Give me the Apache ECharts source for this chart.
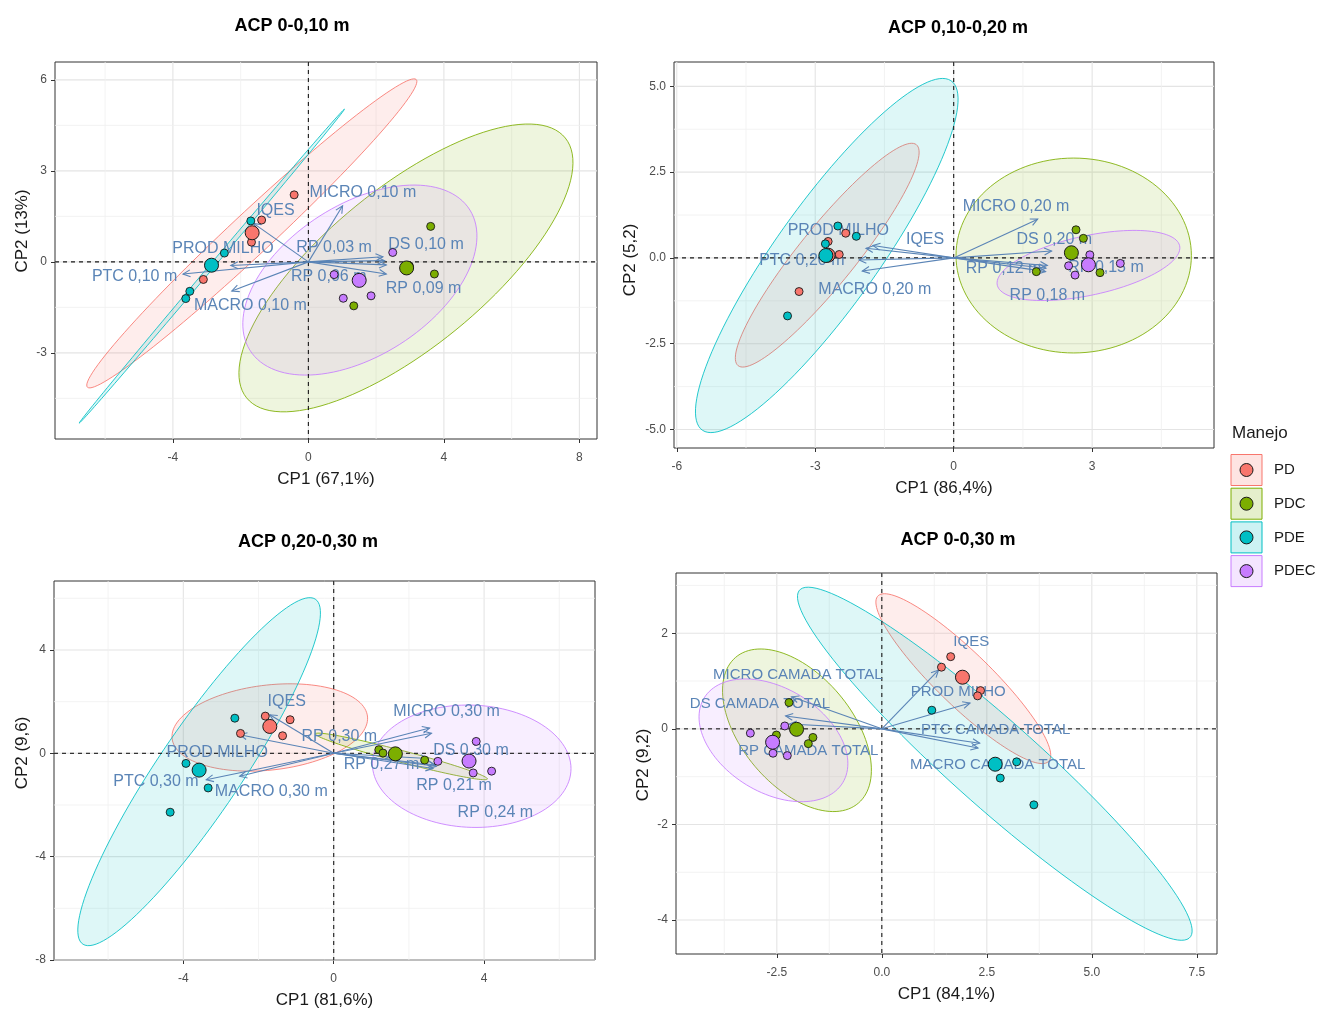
<!DOCTYPE html>
<html>
<head>
<meta charset="utf-8">
<script src="https://cdn.jsdelivr.net/npm/echarts@6/dist/echarts.min.js"></script>
<style>
  html, body { margin: 0; padding: 0; background: #fff; }
  #chart { width: 1324px; height: 1009px; }
</style>
</head>
<body>
<div id="chart"></div>
<script>
// groups (Manejo)
const groups = ['PD', 'PDC', 'PDE', 'PDEC'];
const groupColors = ['#F8766D', '#7CAE00', '#00BFC4', '#C77CFF'];

const titles = ['ACP 0-0,10 m', 'ACP 0,10-0,20 m', 'ACP 0,20-0,30 m', 'ACP 0-0,30 m'];
const xNames = ['CP1 (67,1%)', 'CP1 (86,4%)', 'CP1 (81,6%)', 'CP1 (84,1%)'];
const yNames = ['CP2 (13%)', 'CP2 (5,2)', 'CP2 (9,6)', 'CP2 (9,2)'];

// axis ticks
const xTicks = [[-4, 0, 4, 8], [-6, -3, 0, 3], [-4, 0, 4], [-2.5, 0, 2.5, 5, 7.5]];
const yTicks = [[-3, 0, 3, 6], [-5, -2.5, 0, 2.5, 5], [-8, -4, 0, 4], [-4, -2, 0, 2]];
const xMinor = [[-6, -2, 2, 6], [-4.5, -1.5, 1.5, 4.5], [-6, -2, 2, 6], [-3.75, -1.25, 1.25, 3.75, 6.25]];
const yMinor = [[-4.5, -1.5, 1.5, 4.5], [-3.75, -1.25, 1.25, 3.75], [-6, -2, 2, 6], [-3, -1, 1, 3]];
const xDecimals = [0, 0, 0, 1];
const yDecimals = [0, 1, 0, 0];
const xRanges = [[-7.48, 8.52], [-6.06, 5.64], [-7.44, 6.95], [-4.9, 7.98]];
const yRanges = [[-5.84, 6.59], [-5.54, 5.71], [-8.0, 6.67], [-4.71, 3.26]];
const refLines = [0];

// individuals: [CP1, CP2, group]
const ind1 = [
  [-0.42, 2.21, 0], [-1.38, 1.38, 0], [-1.68, 0.65, 0], [-3.10, -0.58, 0],
  [3.61, 1.17, 1], [3.72, -0.40, 1], [1.34, -1.45, 1], [2.98, -0.13, 1],
  [-1.70, 1.35, 2], [-2.48, 0.29, 2], [-3.50, -0.97, 2], [-3.62, -1.21, 2],
  [2.49, 0.31, 3], [0.76, -0.42, 3], [1.03, -1.20, 3], [1.85, -1.12, 3]
];
const ind2 = [
  [-2.72, 0.48, 0], [-2.34, 0.72, 0], [-2.48, 0.10, 0], [-3.35, -0.98, 0],
  [2.65, 0.82, 1], [2.81, 0.57, 1], [1.79, -0.40, 1], [3.17, -0.43, 1],
  [-2.51, 0.93, 2], [-2.11, 0.63, 2], [-2.78, 0.41, 2], [-3.60, -1.69, 2],
  [2.95, 0.09, 3], [2.63, -0.50, 3], [3.61, -0.16, 3], [2.49, -0.23, 3]
];
const ind3 = [
  [-1.82, 1.44, 0], [-1.16, 1.30, 0], [-2.48, 0.77, 0], [-1.36, 0.68, 0],
  [1.20, 0.14, 1], [1.31, 0.01, 1], [2.42, -0.26, 1], [1.70, -0.03, 1],
  [-2.63, 1.36, 2], [-3.93, -0.39, 2], [-3.34, -1.34, 2], [-4.35, -2.28, 2],
  [3.79, 0.46, 3], [2.77, -0.31, 3], [3.71, -0.76, 3], [4.20, -0.69, 3]
];
const ind4 = [
  [1.64, 1.51, 0], [1.42, 1.29, 0], [2.35, 0.80, 0], [2.28, 0.69, 0],
  [-2.21, 0.55, 1], [-1.64, -0.18, 1], [-1.75, -0.31, 1], [-2.51, -0.13, 1],
  [1.19, 0.39, 2], [3.21, -0.69, 2], [2.82, -1.03, 2], [3.62, -1.59, 2],
  [-3.13, -0.09, 3], [-2.31, 0.06, 3], [-2.59, -0.51, 3], [-2.25, -0.56, 3]
];

// group means: [CP1, CP2, group]
const mean1 = [[-1.66, 0.96, 0], [2.90, -0.20, 1], [-2.86, -0.11, 2], [1.50, -0.61, 3]];
const mean2 = [[-2.72, 0.08, 0], [2.55, 0.15, 1], [-2.77, 0.07, 2], [2.92, -0.20, 3]];
const mean3 = [[-1.70, 1.04, 0], [1.64, -0.02, 1], [-3.58, -0.65, 2], [3.60, -0.30, 3]];
const mean4 = [[1.92, 1.08, 0], [-2.03, -0.01, 1], [2.70, -0.74, 2], [-2.60, -0.28, 3]];

// confidence ellipses: [centre CP1, centre CP2, semi-major, semi-minor, angle deg, group]
const ell1 = [
  [-1.67, 0.94, 7.02, 0.65, 46.3, 0],
  [2.88, -0.20, 6.37, 2.50, 43.5, 1],
  [-2.85, -0.14, 6.49, 0.07, 52.9, 2],
  [1.52, -0.60, 4.00, 2.40, 39.0, 3]
];
const ell2 = [
  [-2.74, 0.08, 3.76, 0.68, 59.6, 0],
  [2.60, 0.07, 2.55, 2.84, 0, 1],
  [-2.75, 0.07, 5.77, 1.20, 62.8, 2],
  [2.92, -0.22, 2.06, 0.85, 17.6, 3]
];
const ell3 = [
  [-1.70, 1.00, 2.64, 1.63, 12.5, 0],
  [1.80, -0.12, 2.45, 0.22, -21.0, 1],
  [-3.58, -0.71, 7.37, 1.21, 65.7, 2],
  [3.67, -0.50, 2.65, 2.36, -10.0, 3]
];
const ell4 = [
  [1.94, 1.05, 2.67, 0.60, -40.0, 0],
  [-2.02, -0.03, 2.12, 1.24, -42.6, 1],
  [2.69, -0.73, 5.90, 0.95, -37.8, 2],
  [-2.58, -0.24, 1.88, 1.12, -24.6, 3]
];

// variables: [name, arrow tip CP1, arrow tip CP2, label CP1, label CP2]
const vars1 = [
  ['IQES', -1.62, 1.27, -0.97, 1.69],
  ['MICRO 0,10 m', 1.01, 1.85, 1.61, 2.27],
  ['PROD MILHO', -2.29, -0.12, -2.52, 0.44],
  ['PTC 0,10 m', -3.70, -0.40, -5.13, -0.49],
  ['MACRO 0,10 m', -2.26, -0.96, -1.71, -1.44],
  ['RP 0,03 m', 2.20, 0.17, 0.76, 0.48],
  ['DS 0,10 m', 2.25, 0.04, 3.47, 0.56],
  ['RP 0,06 m', 2.30, -0.10, 0.60, -0.50],
  ['RP 0,09 m', 2.30, -0.40, 3.40, -0.88]
];
const vars2 = [
  ['IQES', -1.75, 0.36, -0.62, 0.54],
  ['PROD MILHO', -1.90, 0.28, -2.50, 0.80],
  ['PTC 0,20 m', -2.05, -0.06, -3.29, -0.08],
  ['MACRO 0,20 m', -1.98, -0.38, -1.71, -0.91],
  ['MICRO 0,20 m', 1.82, 1.13, 1.35, 1.50],
  ['DS 0,20 m', 2.12, 0.20, 2.18, 0.53],
  ['RP 0,12 m', 2.00, -0.30, 1.08, -0.31],
  ['RP 0,15 m', 2.03, -0.22, 3.30, -0.28],
  ['RP 0,18 m', 1.99, -0.40, 2.03, -1.10]
];
const vars3 = [
  ['IQES', -1.70, 1.49, -1.25, 2.00],
  ['PROD MILHO', -2.50, 0.72, -3.10, 0.01],
  ['PTC 0,30 m', -3.39, -1.02, -4.73, -1.10],
  ['MACRO 0,30 m', -2.50, -0.89, -1.66, -1.50],
  ['MICRO 0,30 m', 2.55, 0.98, 3.00, 1.62],
  ['RP 0,30 m', 2.60, 0.78, 0.15, 0.64],
  ['DS 0,30 m', 2.50, -0.20, 3.65, 0.12],
  ['RP 0,27 m', 2.64, -0.59, 1.27, -0.45],
  ['RP 0,21 m', 2.70, -0.45, 3.20, -1.25],
  ['RP 0,24 m', 2.73, -0.50, 4.30, -2.30]
];
const vars4 = [
  ['IQES', 1.35, 1.23, 2.13, 1.82],
  ['PROD MILHO', 2.10, 0.54, 1.82, 0.78],
  ['PTC CAMADA TOTAL', 2.33, -0.30, 2.71, -0.02],
  ['MACRO CAMADA TOTAL', 2.29, -0.40, 2.76, -0.75],
  ['MICRO CAMADA TOTAL', -2.15, 0.67, -2.00, 1.13],
  ['DS CAMADA TOTAL', -2.29, 0.27, -2.90, 0.53],
  ['RP CAMADA TOTAL', -2.20, 0.10, -1.75, -0.46]
];

const individuals = [ind1, ind2, ind3, ind4];
const means = [mean1, mean2, mean3, mean4];
const ellipses = [ell1, ell2, ell3, ell4];
const variables = [vars1, vars2, vars3, vars4];

// layout
const FONT = '"Liberation Sans", Arial, sans-serif';
const grids = [
  {left: 55, top: 62, width: 542, height: 377},
  {left: 674, top: 62, width: 540, height: 386},
  {left: 54, top: 581, width: 541, height: 379},
  {left: 676, top: 573, width: 541, height: 381}
];
const titlePos = [[292, 26], [958, 28], [308, 542], [958, 540]];
const yNamePos = [[22, 231], [630, 260], [22, 753], [643, 765]];
const labelSize = [16, 16, 16, 15];
const varColor = '#5A84B6';

function rgba(hex, a) {
  const n = parseInt(hex.slice(1), 16);
  return 'rgba(' + (n >> 16 & 255) + ',' + (n >> 8 & 255) + ',' + (n & 255) + ',' + a + ')';
}

// kind: 0 x major, 1 y major, 2 x minor, 3 y minor, 4 x ref, 5 y ref
function lineItem(params, api) {
  const cs = params.coordSys;
  const v = api.value(0), kind = api.value(1);
  let shape;
  if (kind % 2 === 0) {
    const x = api.coord([v, 0])[0];
    shape = {x1: x, y1: cs.y, x2: x, y2: cs.y + cs.height};
  } else {
    const y = api.coord([0, v])[1];
    shape = {x1: cs.x, y1: y, x2: cs.x + cs.width, y2: y};
  }
  let style;
  if (kind >= 4) style = {stroke: '#1a1a1a', lineWidth: 1.1, lineDash: [4, 4]};
  else if (kind >= 2) style = {stroke: '#f0f0f0', lineWidth: 0.8};
  else style = {stroke: '#e4e4e4', lineWidth: 1.1};
  return {type: 'line', shape: shape, style: style};
}

function ellipseItem(params, api) {
  const cx = api.value(0), cy = api.value(1), a = api.value(2), b = api.value(3);
  const th = api.value(4) * Math.PI / 180, g = api.value(5);
  const pts = [];
  for (let k = 0; k < 120; k++) {
    const t = k / 120 * Math.PI * 2;
    const ex = a * Math.cos(t), ey = b * Math.sin(t);
    pts.push(api.coord([cx + ex * Math.cos(th) - ey * Math.sin(th), cy + ex * Math.sin(th) + ey * Math.cos(th)]));
  }
  return {
    type: 'polygon', shape: {points: pts},
    style: {fill: rgba(groupColors[g], 0.13), stroke: rgba(groupColors[g], 0.85), lineWidth: 1}
  };
}

function arrowItem(params, api) {
  const o = api.coord([0, 0]);
  const t = api.coord([api.value(0), api.value(1)]);
  const ang = Math.atan2(t[1] - o[1], t[0] - o[0]);
  const L = 8, w = Math.PI / 7;
  const h1 = [t[0] - L * Math.cos(ang - w), t[1] - L * Math.sin(ang - w)];
  const h2 = [t[0] - L * Math.cos(ang + w), t[1] - L * Math.sin(ang + w)];
  return {
    type: 'group', children: [
      {type: 'line', shape: {x1: o[0], y1: o[1], x2: t[0], y2: t[1]}, style: {stroke: varColor, lineWidth: 1.1}},
      {type: 'polyline', shape: {points: [h1, t, h2]}, style: {stroke: varColor, lineWidth: 1.1, fill: null}}
    ]
  };
}

function labelItem(i) {
  return function (params, api) {
    const p = api.coord([api.value(2), api.value(3)]);
    return {
      type: 'text', x: p[0], y: p[1],
      style: {
        text: variables[i][params.dataIndex][0], fill: varColor,
        font: labelSize[i] + 'px ' + FONT, align: 'center', verticalAlign: 'middle'
      }
    };
  };
}

const xAxis = [], yAxis = [], series = [];
for (let i = 0; i < 4; i++) {
  xAxis.push({
    type: 'value', gridIndex: i, min: xRanges[i][0], max: xRanges[i][1],
    name: xNames[i], nameLocation: 'middle', nameGap: 32,
    nameTextStyle: {fontSize: 17, color: '#1a1a1a', fontFamily: FONT},
    axisLine: {show: false, onZero: false},
    splitLine: {show: false},
    axisTick: {show: true, customValues: xTicks[i], length: 4, lineStyle: {color: '#333'}},
    axisLabel: {
      customValues: xTicks[i], margin: 13, fontSize: 12, color: '#4d4d4d', fontFamily: FONT,
      formatter: (v) => Number(v).toFixed(xDecimals[i])
    }
  });
  yAxis.push({
    type: 'value', gridIndex: i, min: yRanges[i][0], max: yRanges[i][1],
    axisLine: {show: false, onZero: false},
    splitLine: {show: false},
    axisTick: {show: true, customValues: yTicks[i], length: 4, lineStyle: {color: '#333'}},
    axisLabel: {
      customValues: yTicks[i], margin: 8, fontSize: 12, color: '#4d4d4d', fontFamily: FONT,
      formatter: (v) => Number(v).toFixed(yDecimals[i])
    }
  });

  const gridData = []
    .concat(xTicks[i].map(v => [v, 0]), yTicks[i].map(v => [v, 1]))
    .concat(xMinor[i].map(v => [v, 2]), yMinor[i].map(v => [v, 3]));
  const refData = refLines.map(v => [v, 4]).concat(refLines.map(v => [v, 5]));

  series.push(
    {type: 'custom', xAxisIndex: i, yAxisIndex: i, renderItem: lineItem, data: gridData, z: 1, silent: true},
    {type: 'custom', xAxisIndex: i, yAxisIndex: i, renderItem: ellipseItem, data: ellipses[i], clip: true, z: 2, silent: true},
    {type: 'custom', xAxisIndex: i, yAxisIndex: i, renderItem: lineItem, data: refData, z: 3, silent: true},
    {type: 'custom', xAxisIndex: i, yAxisIndex: i, renderItem: arrowItem,
      data: variables[i].map(d => [d[1], d[2], d[3], d[4]]), z: 4, silent: true},
    {type: 'custom', xAxisIndex: i, yAxisIndex: i, renderItem: labelItem(i),
      data: variables[i].map(d => [d[1], d[2], d[3], d[4]]), z: 5, silent: true},
    {type: 'scatter', xAxisIndex: i, yAxisIndex: i, data: individuals[i], symbolSize: 8, z: 6, silent: true,
      itemStyle: {color: (p) => groupColors[p.value[2]], borderColor: '#1a1a1a', borderWidth: 0.9, opacity: 1}},
    {type: 'scatter', xAxisIndex: i, yAxisIndex: i, data: means[i], symbolSize: 14, z: 7, silent: true,
      itemStyle: {color: (p) => groupColors[p.value[2]], borderColor: '#1a1a1a', borderWidth: 1, opacity: 1}}
  );
}

// titles, rotated y titles and legend as graphics
const graphic = titles.map((t, i) => ({
  type: 'text', x: titlePos[i][0], y: titlePos[i][1],
  style: {text: t, font: 'bold 18px ' + FONT, fill: '#000', align: 'center', verticalAlign: 'middle'}
}));
yNames.forEach((t, i) => {
  graphic.push({
    type: 'text', x: yNamePos[i][0], y: yNamePos[i][1], rotation: Math.PI / 2,
    style: {text: t, font: '17px ' + FONT, fill: '#1a1a1a', align: 'center', verticalAlign: 'middle'}
  });
});
graphic.push({
  type: 'text', x: 1232, y: 433,
  style: {text: 'Manejo', font: '17px ' + FONT, fill: '#1a1a1a', align: 'left', verticalAlign: 'middle'}
});
groups.forEach((g, i) => {
  const cy = 470 + i * 33.7;
  const c = groupColors[i];
  graphic.push(
    {type: 'rect', shape: {x: 1231, y: cy - 15.5, width: 31, height: 31},
      style: {fill: rgba(c, 0.2), stroke: c, lineWidth: 1}},
    {type: 'circle', shape: {cx: 1246.5, cy: cy, r: 6.5},
      style: {fill: c, stroke: '#1a1a1a', lineWidth: 1}},
    {type: 'text', x: 1274, y: cy,
      style: {text: g, font: '15px ' + FONT, fill: '#1a1a1a', align: 'left', verticalAlign: 'middle'}}
  );
});

const chart = echarts.init(document.getElementById('chart'));
chart.setOption({
  animation: false,
  backgroundColor: '#fff',
  textStyle: {fontFamily: FONT},
  grid: grids.map(g => Object.assign({show: true, borderColor: '#333', borderWidth: 1,
    backgroundColor: '#fff', containLabel: false, outerBoundsMode: 'none'}, g)),
  xAxis: xAxis,
  yAxis: yAxis,
  series: series,
  graphic: graphic
});
</script>
</body>
</html>
